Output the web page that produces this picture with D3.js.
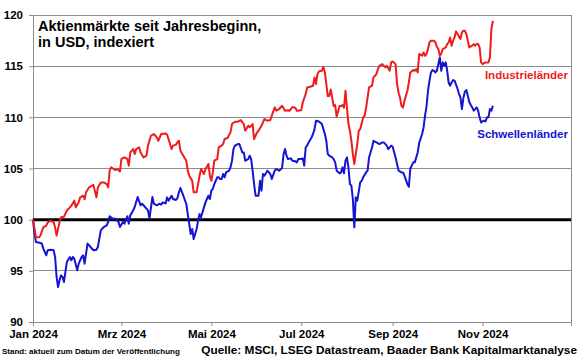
<!DOCTYPE html>
<html>
<head>
<meta charset="utf-8">
<script src="https://cdn.jsdelivr.net/npm/d3@7"></script>
<style>
  html, body { margin: 0; padding: 0; background: #fff; }
  svg { display: block; font-family: "Liberation Sans", Arial, sans-serif; font-weight: bold; }
</style>
</head>
<body>
<svg id="chart" width="580" height="359"></svg>
<script>
// Aktienmärkte seit Jahresbeginn, MSCI in USD, indexiert (1.1.2024 = 100)
const industrie = [
  ["2024-01-01",100],["2024-01-03",98.27],["2024-01-05",98.27],["2024-01-06",98.44],["2024-01-08",99.25],
  ["2024-01-10",99.41],["2024-01-11",99.74],["2024-01-13",99.9],["2024-01-15",99.74],["2024-01-16",99.25],
  ["2024-01-17",98.44],["2024-01-19",99.74],["2024-01-20",100.23],["2024-01-22",100.29],["2024-01-24",100.9],
  ["2024-01-26",101.2],["2024-01-27",101.37],["2024-01-29",101.86],["2024-01-30",101.2],["2024-02-01",101.7],
  ["2024-02-02",102.18],["2024-02-04",102.34],["2024-02-05",102.0],["2024-02-06",102.67],["2024-02-08",103.15],
  ["2024-02-10",103.3],["2024-02-11",103.4],["2024-02-13",102.18],["2024-02-14",103.15],["2024-02-16",103.64],
  ["2024-02-18",103.64],["2024-02-20",103.48],["2024-02-21",103.15],["2024-02-22",104.79],["2024-02-23",105.11],
  ["2024-02-26",104.85],["2024-02-27",104.95],["2024-02-29",104.72],["2024-03-01",105.93],["2024-03-03",106.08],
  ["2024-03-05",105.93],["2024-03-06",105.27],["2024-03-07",106.57],["2024-03-09",106.9],["2024-03-10",106.41],
  ["2024-03-11",106.9],["2024-03-13",107.06],["2024-03-14",106.57],["2024-03-16",106.08],["2024-03-18",106.25],
  ["2024-03-19",107.23],["2024-03-21",108.2],["2024-03-23",108.37],["2024-03-25",108.04],["2024-03-26",107.71],
  ["2024-03-28",108.37],["2024-03-31",108.43],["2024-04-01",108.3],["2024-04-03",107.39],["2024-04-04",106.9],
  ["2024-04-05",107.23],["2024-04-07",107.33],["2024-04-08",107.55],["2024-04-09",107.71],["2024-04-10",106.74],
  ["2024-04-12",106.25],["2024-04-14",105.76],["2024-04-15",104.79],["2024-04-16",104.3],["2024-04-18",103.8],
  ["2024-04-19",102.67],["2024-04-21",102.67],["2024-04-22",103.48],["2024-04-23",104.3],["2024-04-24",104.95],
  ["2024-04-26",104.46],["2024-04-27",104.95],["2024-04-28",105.18],["2024-04-29",105.44],["2024-04-30",104.3],
  ["2024-05-01",103.8],["2024-05-02",104.62],["2024-05-03",105.76],["2024-05-05",105.92],["2024-05-06",107.06],
  ["2024-05-08",107.23],["2024-05-09",107.39],["2024-05-10",107.88],["2024-05-12",107.98],["2024-05-14",108.53],
  ["2024-05-15",109.34],["2024-05-17",109.57],["2024-05-19",109.57],["2024-05-21",109.73],["2024-05-23",109.34],
  ["2024-05-24",108.69],["2024-05-26",109.18],["2024-05-27",109.02],["2024-05-29",109.34],["2024-05-30",107.88],
  ["2024-06-01",108.53],["2024-06-02",108.69],["2024-06-04",109.18],["2024-06-06",109.83],["2024-06-08",109.67],
  ["2024-06-10",109.73],["2024-06-11",110.16],["2024-06-13",110.97],["2024-06-14",110.65],["2024-06-16",110.81],
  ["2024-06-18",111.13],["2024-06-20",110.64],["2024-06-22",110.7],["2024-06-23",110.64],["2024-06-25",111.0],
  ["2024-06-27",110.94],["2024-06-28",110.64],["2024-07-01",110.7],["2024-07-02",111.45],["2024-07-04",112.26],
  ["2024-07-05",112.92],["2024-07-07",112.99],["2024-07-09",113.09],["2024-07-10",113.9],["2024-07-11",113.25],
  ["2024-07-12",114.23],["2024-07-13",114.49],["2024-07-15",114.56],["2024-07-16",114.94],["2024-07-17",114.39],
  ["2024-07-18",113.25],["2024-07-19",112.08],["2024-07-20",112.08],["2024-07-21",112.73],["2024-07-22",111.92],
  ["2024-07-23",111.1],["2024-07-24",111.2],["2024-07-25",110.06],["2024-07-27",111.1],["2024-07-28",111.1],
  ["2024-07-29",111.2],["2024-07-30",110.94],["2024-07-31",112.6],["2024-08-01",110.94],["2024-08-02",109.34],
  ["2024-08-03",108.69],["2024-08-04",107.71],["2024-08-05",106.41],["2024-08-06",105.44],["2024-08-07",106.41],
  ["2024-08-08",107.39],["2024-08-09",108.69],["2024-08-10",108.85],["2024-08-12",109.99],["2024-08-13",110.16],
  ["2024-08-14",110.94],["2024-08-15",111.92],["2024-08-16",112.92],["2024-08-18",113.09],["2024-08-19",113.9],
  ["2024-08-20",114.06],["2024-08-21",114.23],["2024-08-22",114.71],["2024-08-23",115.04],["2024-08-25",115.2],
  ["2024-08-27",114.88],["2024-08-28",115.04],["2024-08-30",114.56],["2024-08-31",115.37],["2024-09-01",115.46],
  ["2024-09-03",115.2],["2024-09-04",113.25],["2024-09-05",112.43],["2024-09-06",111.92],["2024-09-07",111.1],
  ["2024-09-08",110.95],["2024-09-09",111.62],["2024-09-11",112.6],["2024-09-12",113.41],["2024-09-13",114.39],
  ["2024-09-15",114.62],["2024-09-16",114.55],["2024-09-17",114.71],["2024-09-18",114.39],["2024-09-19",116.18],
  ["2024-09-21",116.02],["2024-09-22",116.34],["2024-09-23",116.02],["2024-09-24",116.18],["2024-09-25",116.67],
  ["2024-09-26",117.32],["2024-09-27",117.48],["2024-09-29",117.48],["2024-09-30",117.32],["2024-10-01",116.89],
  ["2024-10-02",116.67],["2024-10-03",116.02],["2024-10-04",116.24],["2024-10-05",116.67],["2024-10-07",116.83],
  ["2024-10-08",117.16],["2024-10-09",117.32],["2024-10-10",117.81],["2024-10-11",117.0],["2024-10-12",117.48],
  ["2024-10-13",117.81],["2024-10-14",118.4],["2024-10-15",118.14],["2024-10-17",117.65],["2024-10-18",118.3],
  ["2024-10-19",118.46],["2024-10-20",118.46],["2024-10-21",118.14],["2024-10-22",117.48],["2024-10-23",116.83],
  ["2024-10-25",117.0],["2024-10-26",117.16],["2024-10-27",117.0],["2024-10-28",117.16],["2024-10-29",117.16],
  ["2024-10-30",116.83],["2024-10-31",115.37],["2024-11-01",115.2],["2024-11-03",115.37],["2024-11-04",115.37],
  ["2024-11-05",115.37],["2024-11-06",115.86],["2024-11-07",118.63],["2024-11-08",119.43]
];

const schwellen = [
  ["2024-01-01",100],["2024-01-02",98.63],["2024-01-03",97.82],["2024-01-06",97.72],["2024-01-07",97.66],
  ["2024-01-08",97.17],["2024-01-10",96.52],["2024-01-11",97.01],["2024-01-13",97.07],["2024-01-15",97.01],
  ["2024-01-16",96.35],["2024-01-17",94.4],["2024-01-18",93.42],["2024-01-19",94.07],["2024-01-20",94.56],
  ["2024-01-21",94.4],["2024-01-22",93.91],["2024-01-23",94.89],["2024-01-24",95.87],["2024-01-26",96.35],
  ["2024-01-27",96.03],["2024-01-28",96.35],["2024-01-29",96.19],["2024-01-31",95.05],["2024-02-01",95.7],
  ["2024-02-03",96.35],["2024-02-04",96.52],["2024-02-05",95.7],["2024-02-07",97.66],["2024-02-09",97.33],
  ["2024-02-11",97.01],["2024-02-13",97.07],["2024-02-14",97.33],["2024-02-16",98.96],["2024-02-18",99.28],
  ["2024-02-20",99.45],["2024-02-21",99.77],["2024-02-22",100.33],["2024-02-24",100.1],["2024-02-26",100.1],
  ["2024-02-28",99.77],["2024-02-29",99.28],["2024-03-02",99.77],["2024-03-03",99.61],["2024-03-05",100.33],
  ["2024-03-06",99.61],["2024-03-07",100.42],["2024-03-09",100.91],["2024-03-10",101.24],["2024-03-12",102.21],
  ["2024-03-14",101.4],["2024-03-15",101.56],["2024-03-17",101.24],["2024-03-19",100.91],["2024-03-20",100.1],
  ["2024-03-22",102.21],["2024-03-23",101.56],["2024-03-25",101.4],["2024-03-27",101.56],["2024-03-28",101.46],
  ["2024-03-29",101.69],["2024-03-31",101.59],["2024-04-01",102.18],["2024-04-02",101.86],["2024-04-04",102.34],
  ["2024-04-05",102.02],["2024-04-07",101.92],["2024-04-08",102.11],["2024-04-09",102.67],["2024-04-10",103.09],
  ["2024-04-12",102.34],["2024-04-14",101.53],["2024-04-15",100.55],["2024-04-16",99.58],["2024-04-17",98.6],
  ["2024-04-18",99.09],["2024-04-19",98.11],["2024-04-21",99.09],["2024-04-22",99.9],["2024-04-23",100.55],
  ["2024-04-24",100.23],["2024-04-26",101.2],["2024-04-27",101.69],["2024-04-28",102.02],["2024-04-29",102.34],
  ["2024-04-30",102.02],["2024-05-01",102.83],["2024-05-02",103.0],["2024-05-03",103.48],["2024-05-05",104.14],
  ["2024-05-06",104.14],["2024-05-07",103.97],["2024-05-08",103.97],["2024-05-09",104.46],["2024-05-10",104.14],
  ["2024-05-11",104.62],["2024-05-13",104.79],["2024-05-14",105.11],["2024-05-15",105.76],["2024-05-16",106.9],
  ["2024-05-17",107.23],["2024-05-19",107.39],["2024-05-20",107.39],["2024-05-22",106.57],["2024-05-23",106.57],
  ["2024-05-24",105.76],["2024-05-26",105.92],["2024-05-27",106.25],["2024-05-28",105.92],["2024-05-29",104.79],
  ["2024-05-30",103.48],["2024-05-31",102.34],["2024-06-02",102.34],["2024-06-03",103.8],["2024-06-04",102.83],
  ["2024-06-05",104.46],["2024-06-06",104.3],["2024-06-08",104.79],["2024-06-10",104.46],["2024-06-11",103.97],
  ["2024-06-13",104.79],["2024-06-14",104.95],["2024-06-16",104.79],["2024-06-18",105.05],["2024-06-19",106.41],
  ["2024-06-20",106.9],["2024-06-21",106.25],["2024-06-22",105.92],["2024-06-24",105.99],["2024-06-25",105.76],
  ["2024-06-27",105.7],["2024-06-28",105.6],["2024-06-29",105.92],["2024-07-01",105.92],["2024-07-02",105.99],
  ["2024-07-03",105.27],["2024-07-04",107.06],["2024-07-05",107.23],["2024-07-06",107.55],["2024-07-08",108.04],
  ["2024-07-09",108.37],["2024-07-10",108.85],["2024-07-11",109.67],["2024-07-13",109.6],["2024-07-15",109.34],
  ["2024-07-16",108.85],["2024-07-17",108.37],["2024-07-18",107.71],["2024-07-19",106.41],["2024-07-20",106.25],
  ["2024-07-22",106.08],["2024-07-23",105.92],["2024-07-24",105.6],["2024-07-25",104.79],["2024-07-27",104.53],
  ["2024-07-28",104.62],["2024-07-29",105.11],["2024-07-30",104.53],["2024-07-31",105.76],["2024-08-01",106.08],
  ["2024-08-02",105.11],["2024-08-03",103.48],["2024-08-04",103.32],["2024-08-05",102.02],["2024-08-06",99.25],
  ["2024-08-07",102.18],["2024-08-08",101.86],["2024-08-10",103.64],["2024-08-11",103.8],["2024-08-12",104.14],
  ["2024-08-14",104.62],["2024-08-15",104.79],["2024-08-16",106.08],["2024-08-18",107.06],["2024-08-19",107.71],
  ["2024-08-21",107.55],["2024-08-23",107.39],["2024-08-25",107.55],["2024-08-26",107.55],["2024-08-28",107.23],
  ["2024-08-29",106.9],["2024-08-31",107.23],["2024-09-01",107.13],["2024-09-03",106.08],["2024-09-05",104.79],
  ["2024-09-07",104.62],["2024-09-08",104.62],["2024-09-09",104.3],["2024-09-11",103.48],["2024-09-12",103.22],
  ["2024-09-13",105.0],["2024-09-15",105.6],["2024-09-16",105.6],["2024-09-17",106.08],["2024-09-18",106.57],
  ["2024-09-19",107.5],["2024-09-21",108.37],["2024-09-22",109.02],["2024-09-23",110.2],["2024-09-24",111.1],
  ["2024-09-25",112.6],["2024-09-26",113.58],["2024-09-27",114.39],["2024-09-28",114.62],["2024-09-29",114.55],
  ["2024-09-30",114.39],["2024-10-01",114.55],["2024-10-02",115.2],["2024-10-03",115.85],["2024-10-04",114.55],
  ["2024-10-05",115.37],["2024-10-06",115.04],["2024-10-07",115.37],["2024-10-08",114.55],["2024-10-09",113.4],
  ["2024-10-10",113.09],["2024-10-11",113.41],["2024-10-12",113.64],["2024-10-13",113.58],["2024-10-14",113.2],
  ["2024-10-15",112.8],["2024-10-16",112.3],["2024-10-17",111.95],["2024-10-18",110.81],["2024-10-19",111.9],
  ["2024-10-20",112.5],["2024-10-21",112.66],["2024-10-22",112.1],["2024-10-23",111.5],["2024-10-24",111.2],
  ["2024-10-25",110.97],["2024-10-26",110.65],["2024-10-27",110.81],["2024-10-28",110.97],["2024-10-29",110.65],
  ["2024-10-30",110.0],["2024-10-31",109.5],["2024-11-01",109.6],["2024-11-02",109.67],["2024-11-03",109.6],
  ["2024-11-04",110.0],["2024-11-05",110.0],["2024-11-06",110.81],["2024-11-07",110.65],["2024-11-08",111.13]
];

const yTicks = [90, 95, 100, 105, 110, 115, 120];
const xTickDates = ["2024-01-01", "2024-03-01", "2024-05-01", "2024-07-01", "2024-09-01", "2024-11-01"];
const xTickLabels = ["Jan 2024", "Mrz 2024", "Mai 2024", "Jul 2024", "Sep 2024", "Nov 2024"];
const xDomain = ["2024-01-01", "2024-12-31"];

const parse = d3.timeParse("%Y-%m-%d");
const W = 580, H = 359;
const m = { left: 33, right: 9, top: 15, bottom: 37 };

const svg = d3.select("#chart");
svg.append("rect").attr("width", W).attr("height", H).attr("fill", "#fff");

const x = d3.scaleTime().domain(xDomain.map(parse)).range([m.left, W - m.right]);
const y = d3.scaleLinear().domain([90, 120]).range([H - m.bottom, m.top]);

const GRID = "#8c8c8c";

// gridlines
svg.append("g")
  .selectAll("line")
  .data(yTicks.filter(v => v !== 90 && v !== 100))
  .join("line")
  .attr("x1", m.left).attr("x2", W - m.right)
  .attr("y1", d => y(d)).attr("y2", d => y(d))
  .attr("stroke", GRID).attr("stroke-width", 1)
  .attr("shape-rendering", "crispEdges");

// right frame
svg.append("line")
  .attr("x1", W - m.right).attr("x2", W - m.right)
  .attr("y1", m.top).attr("y2", H - m.bottom)
  .attr("stroke", GRID).attr("shape-rendering", "crispEdges");

// y axis
const yAxis = svg.append("g")
  .attr("transform", `translate(${m.left},0)`)
  .call(d3.axisLeft(y).tickValues(yTicks).tickSize(4).tickPadding(6).tickFormat(d3.format("d")));
yAxis.select(".domain").attr("stroke", GRID);
yAxis.selectAll(".tick line").attr("stroke", GRID);
yAxis.selectAll("text")
  .attr("fill", "#000").style("font-size", "11.5px").style("font-weight", "bold")
  .style("font-family", '"Liberation Sans", Arial, sans-serif');

// x axis
const labelOf = new Map(xTickDates.map((d, i) => [+parse(d), xTickLabels[i]]));
const xAxis = svg.append("g")
  .attr("transform", `translate(0,${H - m.bottom})`)
  .call(d3.axisBottom(x).tickValues(xTickDates.map(parse)).tickSize(4).tickPadding(4)
    .tickFormat(d => labelOf.get(+d)));
xAxis.select(".domain").attr("stroke", GRID);
xAxis.selectAll(".tick line").attr("stroke", GRID);
xAxis.selectAll("text")
  .attr("fill", "#000").style("font-size", "11.5px").style("font-weight", "bold")
  .style("font-family", '"Liberation Sans", Arial, sans-serif');

// 100-Linie
svg.append("line")
  .attr("x1", m.left).attr("x2", W - m.right)
  .attr("y1", y(100)).attr("y2", y(100))
  .attr("stroke", "#000").attr("stroke-width", 3);

const line = d3.line()
  .x(d => x(parse(d[0])))
  .y(d => y(d[1]));

svg.append("path").datum(schwellen)
  .attr("fill", "none").attr("stroke", "#1414d2").attr("stroke-width", 2)
  .attr("stroke-linejoin", "round").attr("d", line);

svg.append("path").datum(industrie)
  .attr("fill", "none").attr("stroke", "#ee1c1c").attr("stroke-width", 2)
  .attr("stroke-linejoin", "round").attr("d", line);

// labels
svg.append("text")
  .attr("x", 38).attr("y", 31)
  .style("font-size", "14.5px")
  .text("Aktienmärkte seit Jahresbeginn,");
svg.append("text")
  .attr("x", 38).attr("y", 47)
  .style("font-size", "14.5px")
  .text("in USD, indexiert");

svg.append("text")
  .attr("x", 568).attr("y", 79).attr("text-anchor", "end")
  .attr("fill", "#ee1c1c").style("font-size", "11.5px")
  .text("Industrieländer");
svg.append("text")
  .attr("x", 568).attr("y", 138).attr("text-anchor", "end")
  .attr("fill", "#1414d2").style("font-size", "11.5px")
  .text("Schwellenländer");

svg.append("text")
  .attr("x", 2).attr("y", 354)
  .style("font-size", "8px")
  .text("Stand: aktuell zum Datum der Veröffentlichung");
svg.append("text")
  .attr("x", 577).attr("y", 354).attr("text-anchor", "end")
  .style("font-size", "11.8px")
  .text("Quelle: MSCI, LSEG Datastream, Baader Bank Kapitalmarktanalyse");
</script>
</body>
</html>
